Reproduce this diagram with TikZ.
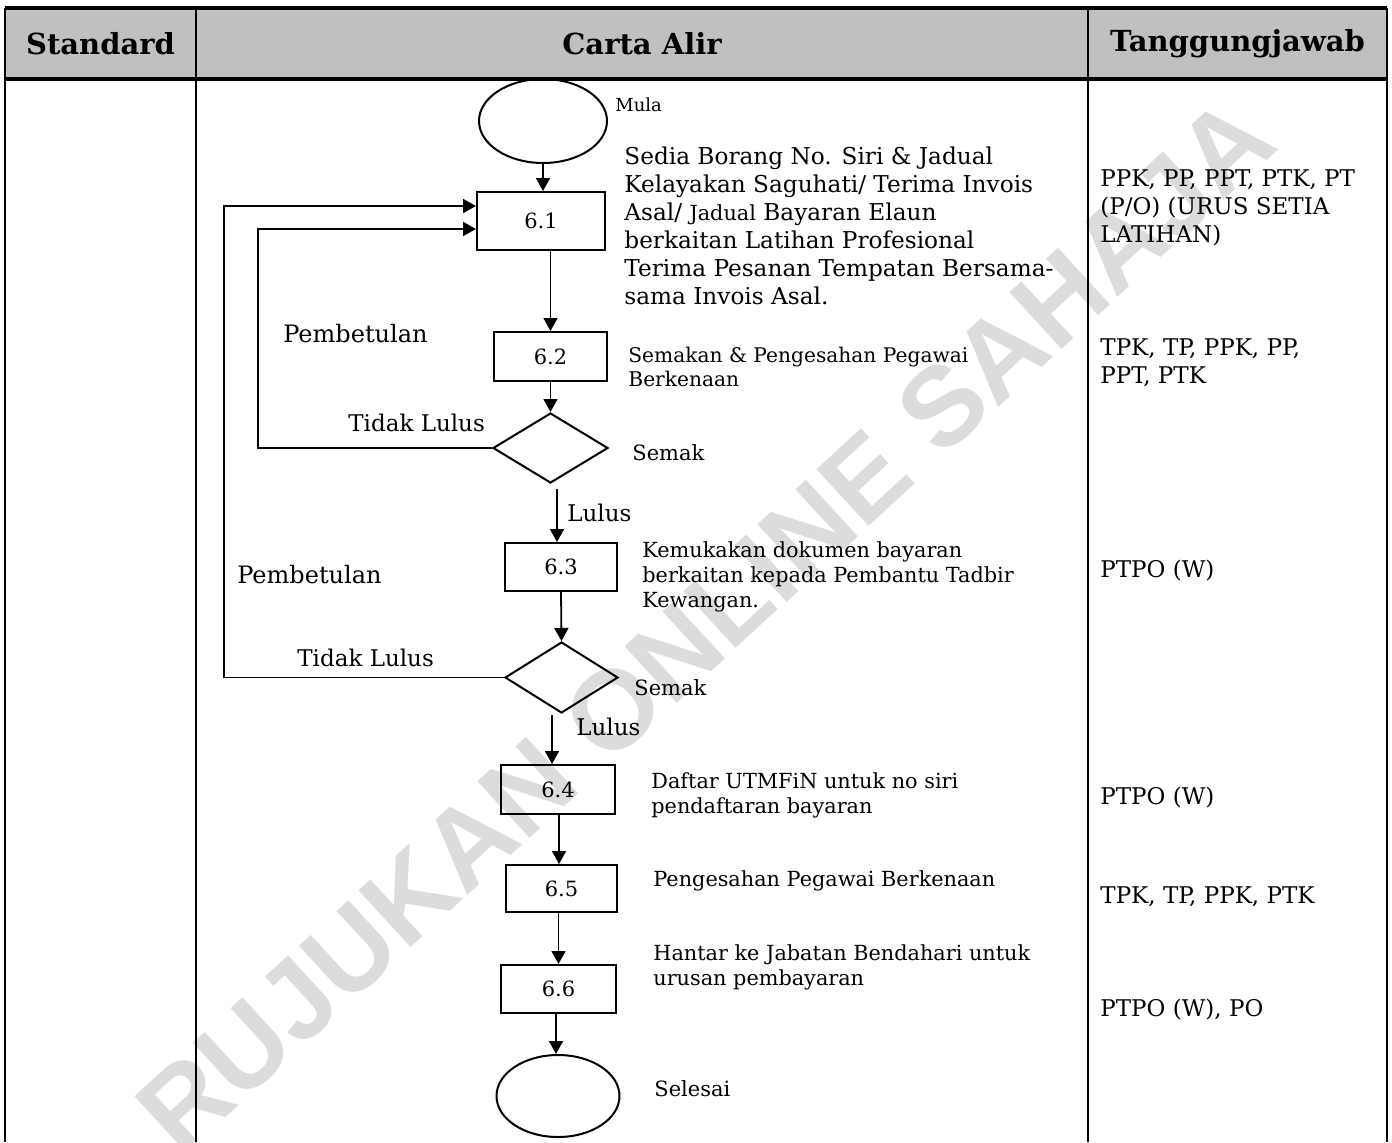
\documentclass[tikz,border=0pt]{standalone}
\usepackage{fontspec}
\setmainfont{DejaVu Serif}
\newfontfamily\wmfont{Liberation Sans}
\usetikzlibrary{shapes.geometric,arrows.meta,calc}
\definecolor{hdrgray}{HTML}{C0C0C0}
\definecolor{wmgray}{HTML}{DCDCDC}
\begin{document}
\begin{tikzpicture}[x=0.5pt,y=-0.5pt,
  box/.style={draw,line width=1pt,inner sep=0pt,font=\fontsize{10.5}{12}\selectfont},
  term/.style={draw,ellipse,line width=1pt,inner sep=0pt},
  dec/.style={draw,diamond,line width=1pt,inner sep=0pt},
  arr/.style={-{Triangle[length=6.5pt,width=7pt]},line width=0.9pt},
  fb/.style={line width=0.9pt},
  lbl/.style={anchor=west,inner sep=0pt},
  desc/.style={anchor=north west,inner sep=0pt,align=left},
  hdr/.style={font=\fontsize{14.5}{16}\selectfont\bfseries,inner sep=0pt},
  rline/.style={line width=1.1pt},
]
\useasboundingbox (0,0) rectangle (1392,1142);
% header background
\fill[hdrgray] (5,8) rectangle (1387,79);
% watermark
\begin{scope}
\clip (5,80) rectangle (1392,1142);
\node[wmgray,rotate=42.6,font=\wmfont\bfseries\fontsize{56}{60}\selectfont,inner sep=0pt] (wm) at (705,625) {RUJUKAN ONLINE SAHAJA};
\end{scope}
% table lines
\draw[line width=1.6pt] (5,8) -- (1387,8);
\draw[line width=1.6pt] (5,79) -- (1387,79);
\draw[rline] (5,8) -- (5,1142);
\draw[rline] (196,8) -- (196,1142);
\draw[rline] (1088,8) -- (1088,1142);
\draw[rline] (1387,8) -- (1387,1142);
% header text
\node[hdr] (hs) at (100.5,44) {Standard};
\node[hdr] (hc) at (642,44) {Carta Alir};
\node[hdr] (ht) at (1237.5,44) {Tanggungjawab};

% flow shapes
\node[term,minimum width=64pt,minimum height=42pt] (mula) at (543,121) {};
\node[box,minimum width=64pt,minimum height=29pt] (b61) at (541,221) {6.1};
\node[box,minimum width=56.5pt,minimum height=24.5pt] (b62) at (550.5,356.5) {6.2};
\node[dec,minimum width=57.5pt,minimum height=35pt] (d1) at (550.5,448) {};
\node[box,minimum width=56pt,minimum height=24pt] (b63) at (561,567) {6.3};
\node[dec,minimum width=56.5pt,minimum height=35.5pt] (d2) at (561.5,677.5) {};
\node[box,minimum width=57pt,minimum height=24.5pt] (b64) at (558,789.5) {6.4};
\node[box,minimum width=55.5pt,minimum height=23.5pt] (b65) at (561.5,888.5) {6.5};
\node[box,minimum width=57.5pt,minimum height=24pt] (b66) at (558.5,989) {6.6};
\node[term,minimum width=61.5pt,minimum height=41pt] (sel) at (558,1096) {};

% connectors
\draw[arr] (mula.south) -- (mula.south |- b61.north);
\draw[arr] (b61.south -| b62.north) -- (b62.north);
\draw[arr] (b62.south) -- (d1.north);
\coordinate (l1) at (557,489);
\draw[arr] (l1) -- (l1 |- b63.north);
\draw[arr] (b63.south) -- (d2.north);
\coordinate (l2) at (552,715);
\draw[arr] (l2) -- (l2 |- b64.north);
\draw[arr] (b64.south -| 559,0) -- (559,0 |- b65.north);
\draw[arr] (b66.north |- b65.south) -- (b66.north);
\draw[arr] (b66.south -| 556,0) -- (556,0 |- sel.north);
% feedback loops
\coordinate (f1) at (258,229);
\coordinate (f2) at (224,206);
\draw[fb,arr] (d1.west) -| (f1) -- (f1 -| b61.west);
\draw[fb,arr] (d2.west) -| (f2) -- (f2 -| b61.west);

% labels
\node[lbl,font=\fontsize{9}{11}\selectfont] (tmula) at (615,105) {Mula};
\node[lbl,font=\fontsize{12}{14}\selectfont] (pb1) at (283,334) {Pembetulan};
\node[lbl,font=\fontsize{11.5}{14}\selectfont] (tl1) at (348,423) {Tidak Lulus};
\node[lbl,font=\fontsize{10.5}{12}\selectfont] (sm1) at (632,453) {Semak};
\node[lbl,font=\fontsize{11.5}{14}\selectfont] (ll1) at (567,513) {Lulus};
\node[lbl,font=\fontsize{12}{14}\selectfont] (pb2) at (237,575) {Pembetulan};
\node[lbl,font=\fontsize{11.5}{14}\selectfont] (tl2) at (297,658) {Tidak Lulus};
\node[lbl,font=\fontsize{10.5}{12}\selectfont] (sm2) at (634,688) {Semak};
\node[lbl,font=\fontsize{11.5}{14}\selectfont] (ll2) at (576,727) {Lulus};

% descriptions
\node[desc,font=\fontsize{11.6}{14}\selectfont] (t61) at (624,146) {Sedia Borang No. Siri \& Jadual\\Kelayakan Saguhati/ Terima Invois\\Asal/ {\fontsize{10.4}{14}\selectfont Jadual} Bayaran Elaun\\berkaitan Latihan Profesional\\Terima Pesanan Tempatan Bersama-\\sama Invois Asal.};
\node[desc,font=\fontsize{10.1}{12}\selectfont] (t62) at (628,347) {Semakan \& Pengesahan Pegawai\\Berkenaan};
\node[desc,font=\fontsize{10.4}{12.5}\selectfont] (t63) at (642,541) {Kemukakan dokumen bayaran\\berkaitan kepada Pembantu Tadbir\\Kewangan.};
\node[desc,font=\fontsize{10.4}{12.5}\selectfont] (t64) at (651,772) {Daftar UTMFiN untuk no siri\\pendaftaran bayaran};
\node[desc,font=\fontsize{10.4}{12.5}\selectfont] (t65) at (653,870) {Pengesahan Pegawai Berkenaan};
\node[desc,font=\fontsize{10.4}{12.5}\selectfont] (t66) at (653,944) {Hantar ke Jabatan Bendahari untuk\\urusan pembayaran};
\node[lbl,font=\fontsize{10.5}{12}\selectfont] (tsel) at (654,1089) {Selesai};

% responsibilities
\node[desc,font=\fontsize{11.5}{14}\selectfont] (r1) at (1100,169) {PPK, PP, PPT, PTK, PT\\(P/O) (URUS SETIA\\LATIHAN)};
\node[desc,font=\fontsize{11.5}{14}\selectfont] (r2) at (1100,338) {TPK, TP, PPK, PP,\\PPT, PTK};
\node[lbl,font=\fontsize{11.5}{12}\selectfont] (r3) at (1100,571) {PTPO (W)};
\node[lbl,font=\fontsize{11.5}{12}\selectfont] (r4) at (1100,798) {PTPO (W)};
\node[lbl,font=\fontsize{11.5}{12}\selectfont] (r5) at (1100,897) {TPK, TP, PPK, PTK};
\node[lbl,font=\fontsize{11.5}{12}\selectfont] (r6) at (1100,1010) {PTPO (W), PO};
\end{tikzpicture}
\end{document}
